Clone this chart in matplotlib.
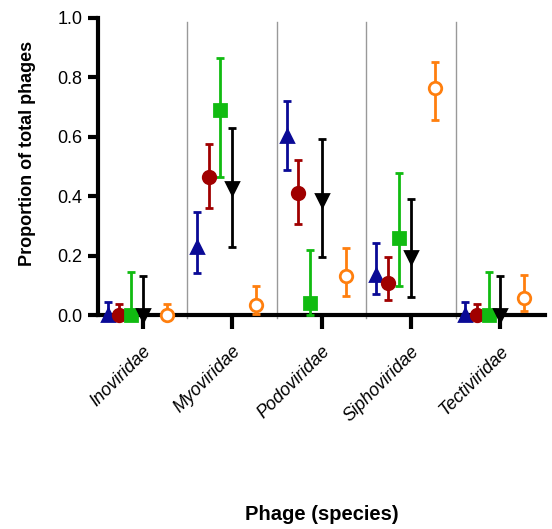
import numpy as np
import matplotlib.pyplot as plt

plt.rcParams['font.family'] = ['Liberation Sans', 'DejaVu Sans']

families = ['Inoviridae', 'Myoviridae', 'Podoviridae', 'Siphoviridae', 'Tectiviridae']

# each series: value, lower end of error bar, upper end of error bar
blue_val = [0.0, 0.23, 0.603, 0.135, 0.0]
blue_lo = [0.0, 0.143, 0.488, 0.07, 0.0]
blue_hi = [0.045, 0.348, 0.72, 0.243, 0.045]

red_val = [0.0, 0.466, 0.412, 0.109, 0.0]
red_lo = [0.0, 0.361, 0.306, 0.05, 0.0]
red_hi = [0.037, 0.576, 0.522, 0.194, 0.037]

green_val = [0.0, 0.69, 0.039, 0.258, 0.0]
green_lo = [0.0, 0.466, 0.0, 0.099, 0.0]
green_hi = [0.146, 0.864, 0.219, 0.479, 0.146]

black_val = [0.0, 0.427, 0.387, 0.196, 0.0]
black_lo = [0.0, 0.23, 0.196, 0.062, 0.0]
black_hi = [0.13, 0.629, 0.593, 0.39, 0.13]

orange_val = [0.0, 0.034, 0.131, 0.763, 0.058]
orange_lo = [0.0, 0.003, 0.064, 0.657, 0.015]
orange_hi = [0.037, 0.099, 0.225, 0.853, 0.134]

series = [
    (blue_val, blue_lo, blue_hi, -0.39, '#0a0a96', '^', '#0a0a96'),
    (red_val, red_lo, red_hi, -0.26, '#a00000', 'o', '#a00000'),
    (green_val, green_lo, green_hi, -0.13, '#11bb11', 's', '#11bb11'),
    (black_val, black_lo, black_hi, 0.0, '#000000', 'v', '#000000'),
    (orange_val, orange_lo, orange_hi, 0.27, '#ff7f0e', 'o', 'white'),
]

fig = plt.figure(figsize=(5.52, 5.29), dpi=100)
ax = fig.add_axes([98/552, 1-315/529, 447/552, 297/529])

x = np.arange(len(families))
for sep in [0.5, 1.5, 2.5, 3.5]:
    ax.axvline(sep, ymin=-0.01, ymax=0.985, color='#999999', lw=1, clip_on=False, zorder=0)

for val, lo, hi, off, col, mk, face in series:
    val = np.array(val)
    yerr = [val - np.array(lo), np.array(hi) - val]
    ax.errorbar(x + off, val, yerr=yerr, fmt=mk, color=col, mfc=face, mec=col,
                mew=2, ms=9, elinewidth=2, capsize=3, capthick=2,
                clip_on=False, zorder=3)

ax.set_xlim(-0.5, 4.5)
ax.set_ylim(0, 1.0)
ax.set_yticks(np.arange(0, 1.01, 0.2))
ax.set_yticklabels(['%.1f' % v for v in np.arange(0, 1.01, 0.2)], fontsize=13)
ax.set_xticks(x)
ax.set_xticklabels(families, rotation=45, ha='right', rotation_mode='anchor',
                   fontsize=13, style='italic')
for s in ['top', 'right']:
    ax.spines[s].set_visible(False)
for s in ['left', 'bottom']:
    ax.spines[s].set_linewidth(3)
ax.tick_params(axis='y', width=3, length=7, pad=4)
ax.tick_params(axis='x', width=3, length=10, pad=10)

fig.text(28/552, 1-153/529, 'Proportion of total phages', rotation=90,
         ha='center', va='center', fontsize=13, fontweight='bold')
fig.text(322/552, 1-515/529, 'Phage (species)', ha='center', va='center',
         fontsize=14.5, fontweight='bold')

fig.savefig('out.png', dpi=100)
